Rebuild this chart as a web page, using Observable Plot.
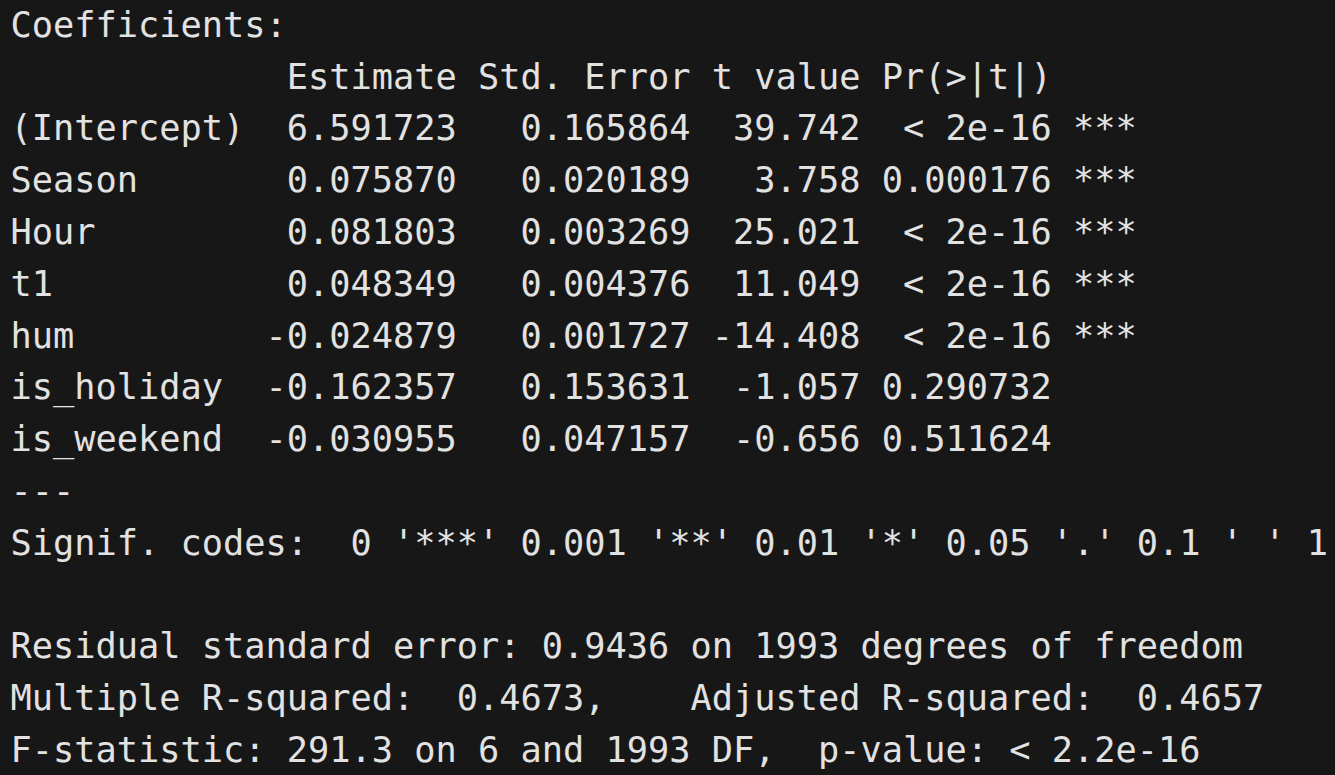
<!DOCTYPE html>
<html>
<head>
<meta charset="utf-8">
<script src="https://cdn.jsdelivr.net/npm/d3@7"></script>
<script src="https://cdn.jsdelivr.net/npm/@observablehq/plot@0.6"></script>
<style>
  html, body { margin: 0; padding: 0; background: #171717; }
  #chart svg text { white-space: pre; }
</style>
</head>
<body>
<div id="chart"></div>
<script>
const terms = ['(Intercept)', 'Season', 'Hour', 't1', 'hum', 'is_holiday', 'is_weekend']
const estimates = ['6.591723', '0.075870', '0.081803', '0.048349', '-0.024879', '-0.162357', '-0.030955']
const stdErrors = ['0.165864', '0.020189', '0.003269', '0.004376', '0.001727', '0.153631', '0.047157']
const tValues = ['39.742', '3.758', '25.021', '11.049', '-14.408', '-1.057', '-0.656']
const pValues = ['< 2e-16', '0.000176', '< 2e-16', '< 2e-16', '< 2e-16', '0.290732', '0.511624']
const stars = ['***', '***', '***', '***', '***', '', '']
const footer = [
  "Residual standard error: 0.9436 on 1993 degrees of freedom",
  "Multiple R-squared:  0.4673,\tAdjusted R-squared:  0.4657 ",
  "F-statistic: 291.3 on 6 and 1993 DF,  p-value: < 2.2e-16"
]

// build the console lines from the values
let lines = ['Coefficients:',
  ''.padEnd(12) + 'Estimate'.padStart(9) + ' ' + 'Std. Error' + ' ' + 't value' + ' ' + 'Pr(>|t|)']
terms.forEach((t, i) => {
  lines.push(t.padEnd(12) + estimates[i].padStart(9) + ' ' + stdErrors[i].padStart(10) + ' ' +
    tValues[i].padStart(7) + ' ' + pValues[i].padStart(8) + ' ' + stars[i])
})
lines.push('---')
lines.push("Signif. codes:  0 '***' 0.001 '**' 0.01 '*' 0.05 '.' 0.1 ' ' 1")
lines.push('')
lines.push(footer[0])
lines.push(footer[1].replace('\t', '    '))
lines.push(footer[2])

const rows = lines.map((s, i) => ({ line: i, text: s }))

let chart = Plot.plot({
  width: 1335,
  height: 775,
  margin: 0,
  x: { domain: [0, 1], range: [10, 1325], axis: null },
  y: { domain: [0, 14], range: [25, 750], axis: null },
  style: { background: '#171717' },
  marks: [
    Plot.text(rows, {
      x: 0, y: 'line', text: 'text',
      textAnchor: 'start',
      fill: '#e2e2e2',
      fontSize: 35.3,
      fontFamily: 'DejaVu Sans Mono, monospace'
    })
  ]
})
d3.select('#chart').append(() => chart)
</script>
</body>
</html>
